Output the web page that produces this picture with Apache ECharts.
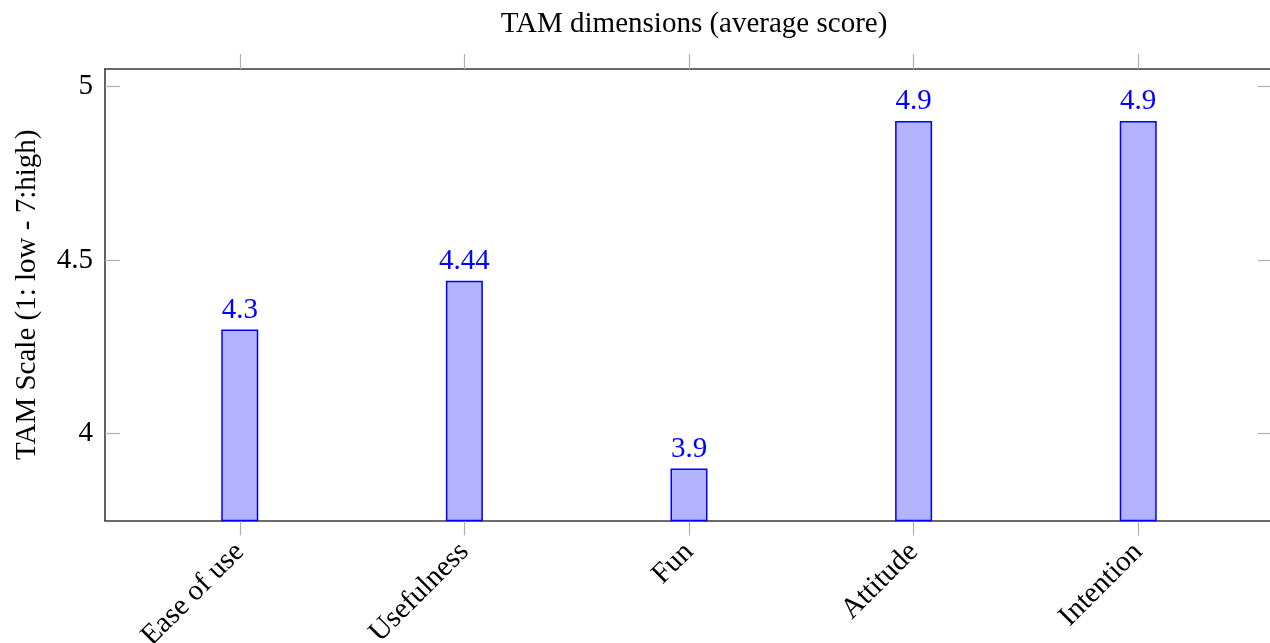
<!DOCTYPE html>
<html>
<head>
<meta charset="utf-8">
<script src="https://cdn.jsdelivr.net/npm/echarts@6/dist/echarts.min.js"></script>
<style>
  html, body { margin: 0; padding: 0; background: #fff; }
  #chart { width: 1270px; height: 643px; }
</style>
</head>
<body>
<div id="chart"></div>
<script>
const categories = ['Ease of use', 'Usefulness', 'Fun', 'Attitude', 'Intention']
const scores = [4.3, 4.44, 3.9, 4.9, 4.9]
const yTicks = [4, 4.5, 5]
const catIndex = categories.map((c, i) => i)

const serif = 'Liberation Serif'
const tickStyle = { color: '#b0b0b0', width: 1.2 }
const boxStyle = { color: '#3a3a3a', width: 1.6 }

const chart = echarts.init(document.getElementById('chart'))
chart.setOption({
  animation: false,
  textStyle: { fontFamily: serif },
  title: {
    text: 'TAM dimensions (average score)',
    left: 689,
    textAlign: 'center',
    top: 5,
    textStyle: { fontFamily: serif, fontSize: 29, fontWeight: 'normal', color: '#000' }
  },
  // right border sits just past the window edge, like the reference
  grid: { left: 105, top: 69, width: 1168, height: 451.5, outerBoundsMode: 'none', containLabel: false },
  xAxis: [{
    type: 'value',
    min: -0.6,
    max: 4.6,
    position: 'bottom',
    splitLine: { show: false },
    axisLine: { show: true, onZero: false, lineStyle: boxStyle },
    axisTick: { show: true, length: 15, lineStyle: tickStyle, customValues: catIndex },
    axisLabel: {
      customValues: catIndex,
      formatter: v => categories[v],
      rotate: 45,
      margin: 27,
      fontSize: 29,
      color: '#000',
      fontFamily: serif
    }
  }, {
    type: 'value',
    min: -0.6,
    max: 4.6,
    position: 'top',
    splitLine: { show: false },
    axisLine: { show: true, onZero: false, lineStyle: boxStyle },
    axisTick: { show: true, length: 15, lineStyle: tickStyle, customValues: catIndex },
    axisLabel: { show: false }
  }],
  yAxis: [{
    type: 'value',
    min: 3.75,
    max: 5.05,
    position: 'left',
    name: 'TAM Scale (1: low - 7:high)',
    nameLocation: 'middle',
    nameGap: 63,
    nameTextStyle: { fontSize: 29, color: '#000', fontFamily: serif },
    splitLine: { show: false },
    axisLine: { show: true, onZero: false, lineStyle: boxStyle },
    axisTick: { show: true, inside: true, length: 15, lineStyle: tickStyle, customValues: yTicks },
    axisLabel: { customValues: yTicks, margin: 12, fontSize: 29, color: '#000', fontFamily: serif }
  }, {
    type: 'value',
    min: 3.75,
    max: 5.05,
    position: 'right',
    splitLine: { show: false },
    axisLine: { show: true, onZero: false, lineStyle: boxStyle },
    axisTick: { show: true, inside: true, length: 15, lineStyle: tickStyle, customValues: yTicks },
    axisLabel: { show: false }
  }],
  series: [{
    type: 'bar',
    xAxisIndex: 0,
    yAxisIndex: 0,
    barWidth: 37,
    data: scores.map((s, i) => [i, s]),
    itemStyle: { color: '#b3b3ff', borderColor: '#0000ff', borderWidth: 1.5 },
    label: {
      show: true,
      position: 'top',
      distance: 5,
      formatter: p => p.value[1],
      color: '#0000ff',
      fontSize: 29,
      fontFamily: serif
    }
  }]
})
</script>
</body>
</html>
